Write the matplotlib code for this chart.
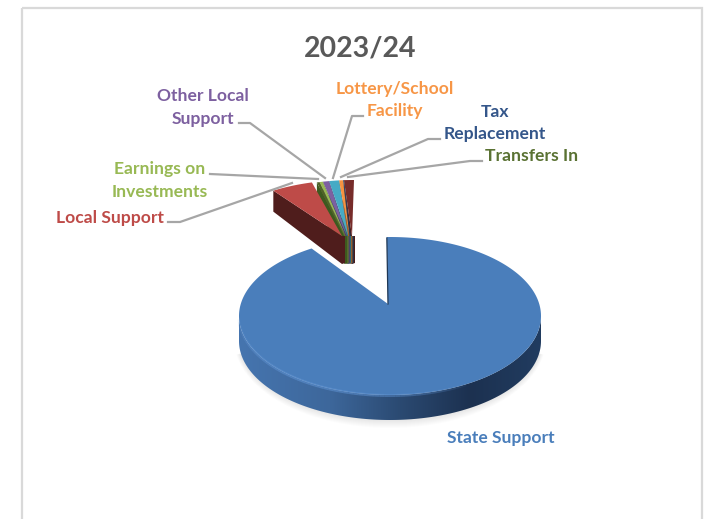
import numpy as np
import matplotlib
matplotlib.use("Agg")
import matplotlib.pyplot as plt
from matplotlib.patches import Polygon, Rectangle
from matplotlib.colors import to_rgb

# ---- data (share of revenue, %) ----
categories = ["State Support", "Local Support", "Earnings on Investments",
              "Other Local Support", "Other", "Lottery/School Facility",
              "Tax Replacement", "Transfers In", "Miscellaneous"]
shares = [91.6, 4.4, 0.36, 0.67, 1.06, 0.42, 0.1, 0.28, 1.06]
top_colors = ["#4a7ebb", "#be4b48", "#98b954", "#7d60a0", "#46aac5", "#f69240",
              "#2c4d75", "#4f6228", "#772c2a"]
side_colors = ["#2c4d75", "#4f1d1c", "#5f7530", "#4f3c66", "#2a6a7c", "#a85f22",
               "#1f3754", "#3d5a1f", "#4a1b1a"]
title = "2023/24"
W, H = 704, 519
plt.rcParams['font.family'] = ['Lato', 'DejaVu Sans']

fig = plt.figure(figsize=(W/100, H/100), dpi=100, facecolor="white")
ax = fig.add_axes([0, 0, 1, 1])

# frame
ax.add_patch(Rectangle((22, 8), 680, 600, fill=False, ec="#d9d9d9", lw=1.6, zorder=0))

# geometry of the 3-D pie
RX, RY = 151, 79
CX, CY = 390, 316
DEPTH = 25
OFFX, OFFY = -36, -57     # explosion of the small slices
START = -1.2              # angle of the first slice edge

def rim(theta, cx=CX, cy=CY):
    t = np.radians(theta)
    return cx + RX*np.sin(t), cy - RY*np.cos(t)

deg = np.array(shares)/sum(shares)*360
state_end = deg[0] + START

# soft shadow beneath the wall
sh = np.linspace(100, 260, 120)
for k in range(10):
    grow = 10 - k
    sx = CX + (RX+0.5*grow)*np.sin(np.radians(sh))
    sy = CY + DEPTH - 2 + (RY+grow)*(-np.cos(np.radians(sh)))
    ax.add_patch(Polygon(np.c_[sx, sy], fc="#000000", ec="none", alpha=0.012, zorder=1))

# main slice: side wall with horizontal gradient
th = np.linspace(90, 270, 181)
wx, wy = rim(th)
wall = Polygon(np.r_[np.c_[wx, wy], np.c_[wx[::-1], wy[::-1]+DEPTH]], fc="none", ec="none", zorder=2)
ax.add_patch(wall)
stops_x = [239, 330, 400, 470, 541]
stops_c = np.array([to_rgb(c) for c in ["#4675af", "#3d679b", "#2b4a72", "#1c3150", "#213c60"]])
gx = np.linspace(239, 541, 604)
grad = np.stack([np.interp(gx, stops_x, stops_c[:, k]) for k in range(3)], axis=-1)[None, :, :]
im = ax.imshow(grad, extent=(239, 541, 430, 300), aspect="auto", zorder=2, interpolation="bilinear")
im.set_clip_path(wall)

# main slice: top
apex = (388, 304)
ang = np.linspace(START, state_end, 300)
xs, ys = rim(ang)
ax.add_patch(Polygon(np.r_[[apex], np.c_[xs, ys]], fc=top_colors[0], ec="none", zorder=3))
# bevel highlight along the front-left rim, fading to the right
sel = np.linspace(150, 268, 60)
bx, by = rim(sel)
for k in range(len(sel)-1):
    ax.plot(bx[k:k+2], by[k:k+2]+0.5, color="#5f93d3", lw=2.2,
            alpha=0.55*np.sin(np.pi*(k+0.5)/(len(sel)-1))**0.6, zorder=4, solid_capstyle="butt")
# dark notch edge
x0, y0 = rim(START)
ax.plot([x0, apex[0]], [y0+1, apex[1]], color="#1f3754", lw=0.9, zorder=4)

# small slices, exploded
disp = [1, 7, 2, 3, 4, 5, 6, 8]   # left-to-right order across the top
d = deg[disp]
edges = np.r_[-d[::-1].cumsum()[::-1], 0]
apex_x = np.linspace(343, 352, len(disp))
for j in range(len(disp)-1, -1, -1):
    i = disp[j]
    a0, a1 = edges[j], edges[j+1]
    shift = -5 if i == 1 else 0
    ax0, ay0 = (apex_x[j] if i != 1 else 342), 236
    arc = np.linspace(a0, a1, 12)
    px, py = rim(arc, CX+OFFX+shift, CY+OFFY)
    d_rim, d_apex = 21, 28
    z = 5 + (len(disp)-j)
    ax.add_patch(Polygon([(px[0], py[0]), (ax0, ay0), (ax0, ay0+d_apex), (px[0], py[0]+d_rim)],
                         fc=side_colors[i], ec="none", zorder=z))
    ax.add_patch(Polygon([(ax0, ay0), (ax0+3, ay0), (ax0+3, ay0+d_apex-1), (ax0, ay0+d_apex)],
                         fc=side_colors[i], ec="none", zorder=z))
    ax.add_patch(Polygon(np.r_[[(ax0, ay0)], np.c_[px, py]], fc=top_colors[i], ec="none", zorder=z))

# leader lines
leader_color = "#a6a6a6"
leaders = [
    [(168, 222), (180, 222), (292, 183)],
    [(210, 174), (318, 179)],
    [(239, 123), (250, 123), (325, 178)],
    [(363, 116), (352, 116), (333, 178)],
    [(440, 139), (428, 139), (341, 177)],
    [(482, 161), (470, 161), (348, 177)],
]
for pts in leaders:
    p = np.array(pts)
    ax.plot(p[:, 0], p[:, 1], color=leader_color, lw=1.6, zorder=20)

# labels
fs = 12.6
def label(x, y, s, c, size=fs):
    ax.text(x, y, s, color=c, fontsize=size, fontweight="bold", ha="center", va="center",
            linespacing=1.5, zorder=30)

label(360, 48.5, title, "#595959", 20.5)
label(203, 107.5, "Other Local\nSupport", "#7d60a0")
label(394.5, 100, "Lottery/School\nFacility", "#f79646")
label(495, 123, "Tax\nReplacement", "#34568a")
label(532, 156, "Transfers In", "#5a7233")
label(160, 180.5, "Earnings on\nInvestments", "#98b954")
label(110, 217.5, "Local Support", "#be4b48")
label(500.5, 438, "State Support", "#4a7ebb")

ax.set_xlim(0, W); ax.set_ylim(H, 0); ax.axis("off")
fig.savefig("out.png", dpi=100)
